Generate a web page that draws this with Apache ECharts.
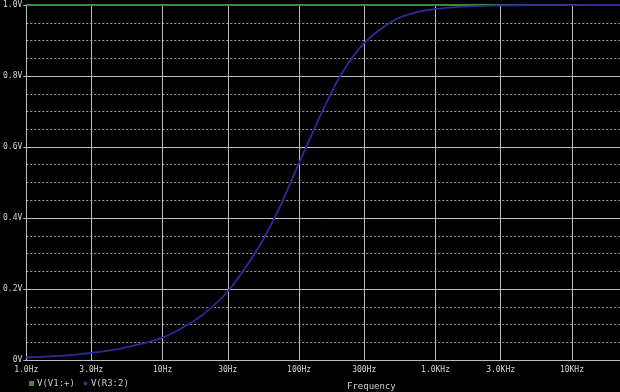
<!DOCTYPE html>
<html>
<head>
<meta charset="utf-8">
<script src="https://cdn.jsdelivr.net/npm/echarts@6/dist/echarts.min.js"></script>
<style>
html,body{margin:0;padding:0;background:#000;}
#c{width:620px;height:392px;}
</style>
</head>
<body>
<div id="c"></div>
<script>
// Frequencies (Hz) and read values
const freqs = [1, 1.5, 2, 3, 5, 7, 10, 15, 20, 30, 50, 70, 100, 150, 200, 300, 500, 700, 1000, 1500, 2000, 3000, 5000, 10000, 22500];
const vR3 = [0.007, 0.010, 0.013, 0.020, 0.033, 0.046, 0.063, 0.098, 0.13, 0.193, 0.315, 0.42, 0.555, 0.705, 0.80, 0.893, 0.958, 0.978, 0.989, 0.995, 0.997, 0.9988, 0.9996, 0.9999, 1.0];
const vV1Freqs = [1, 22500];
const vV1 = [1.0, 1.0];
const yTickLabels = {0: '0V', 0.2: '0.2V', 0.4: '0.4V', 0.6: '0.6V', 0.8: '0.8V', 1: '1.0V'};
const xMainLabels = {1: '1.0Hz', 10: '10Hz', 100: '100Hz', 1000: '1.0KHz', 10000: '10KHz'};
const xSecLabels = {1: '3.0Hz', 10: '30Hz', 100: '300Hz', 1000: '3.0KHz'};
const seriesNames = ['V(V1:+)', 'V(R3:2)'];

const font = 'DejaVu Sans Mono';
const labelColor = '#d4d4d4';
const gridColor = '#bdbdbd';

const chart = echarts.init(document.getElementById('c'), null, {renderer: 'canvas'});
function lookup(map, v) {
  for (const k in map) { if (Math.abs(Number(k) - v) < 1e-6 * Math.max(1, v)) return map[k]; }
  return '';
}
chart.setOption({
  backgroundColor: '#000',
  animation: false,
  grid: {left: 25, right: 0, top: 5, bottom: 32, containLabel: false},
  legend: {
    left: 24, top: 374, itemWidth: 5, itemHeight: 5, itemGap: 8,
    textStyle: {color: '#c8c8c8', fontFamily: font, fontSize: 9, padding: [0, 0, 0, -2]},
    data: [
      {name: seriesNames[0], icon: 'rect'},
      {name: seriesNames[1], icon: 'diamond'}
    ]
  },
  graphic: [{
    type: 'text', left: 347, top: 382,
    style: {text: 'Frequency', fill: '#d0d0d0', font: '9px "DejaVu Sans Mono"'}
  }],
  xAxis: [{
    type: 'log', logBase: 10, min: 1, max: 22500,
    axisLine: {show: true, onZero: false, lineStyle: {color: gridColor, width: 1}},
    axisTick: {show: false},
    axisLabel: {color: labelColor, fontFamily: font, fontSize: 8, margin: 6, showMaxLabel: false,
      formatter: v => lookup(xMainLabels, v)},
    splitLine: {show: true, lineStyle: {color: gridColor, width: 1}},
    minorSplitLine: {show: false}
  }, {
    type: 'log', logBase: 10, min: 1/3, max: 7500, position: 'bottom',
    axisLine: {show: false},
    axisTick: {show: false},
    axisLabel: {color: labelColor, fontFamily: font, fontSize: 8, margin: 6, showMinLabel: false, showMaxLabel: false,
      formatter: v => lookup(xSecLabels, v)},
    splitLine: {show: true, lineStyle: {color: gridColor, width: 1}}
  }],
  yAxis: {
    type: 'value', min: 0, max: 1, interval: 0.2,
    axisLine: {show: true, lineStyle: {color: gridColor, width: 1}},
    axisTick: {show: true, length: 3, lineStyle: {color: gridColor}},
    axisLabel: {color: labelColor, fontFamily: font, fontSize: 8, margin: 4,
      formatter: v => lookup(yTickLabels, v)},
    splitLine: {show: true, lineStyle: {color: gridColor, width: 1}},
    minorTick: {show: false, splitNumber: 4},
    minorSplitLine: {show: true, lineStyle: {color: '#a0a0a0', width: 1, type: [2, 2]}}
  },
  series: [{
    name: seriesNames[0], type: 'line', xAxisIndex: 0, showSymbol: false,
    data: vV1Freqs.map((f, i) => [f, vV1[i]]),
    itemStyle: {color: '#3c8c3c'},
    lineStyle: {color: '#3c8c3c', width: 2}
  }, {
    name: seriesNames[1], type: 'line', xAxisIndex: 0, showSymbol: false, smooth: 0.3,
    data: freqs.map((f, i) => [f, vR3[i]]),
    itemStyle: {color: '#2e2a9a'},
    lineStyle: {color: '#2e2a9a', width: 1.8}
  }]
});
</script>
</body>
</html>
